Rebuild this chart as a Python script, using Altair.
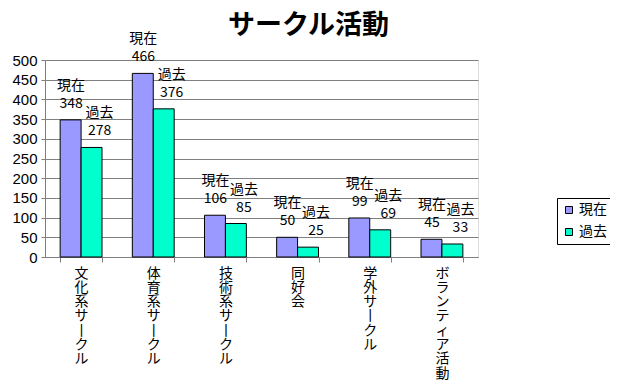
import altair as alt
import pandas as pd

categories = ["文化系サークル", "体育系サークル", "技術系サークル", "同好会", "学外サークル", "ボランティア活動"]
current = [348, 466, 106, 50, 99, 45]
past = [278, 376, 85, 25, 69, 33]
series = ["現在", "過去"]
colors = ["#9999FF", "#00FFCC"]

# vertical-writing display of category names (long vowel mark drawn upright)
vert = [c.replace("ー", "丨") for c in categories]

rows = []
for c, a, b in zip(vert, current, past):
    rows.append({"cat": c, "series": series[0], "value": a})
    rows.append({"cat": c, "series": series[1], "value": b})
df = pd.DataFrame(rows)

JP = "Noto Sans CJK JP"

x_enc = alt.X(
    "cat:N", sort=vert, title=None,
    scale=alt.Scale(paddingInner=0.42, paddingOuter=0.21),
    axis=alt.Axis(
        labelAngle=0, tickBand="extent", tickSize=5, tickColor="#808080",
        domainColor="#808080", labelFont=JP, labelFontSize=14,
        labelLineHeight=14.3, labelBaseline="top", labelPadding=4,
        labelColor="black",
        labelExpr="split(datum.label, '')",
    ),
)
xo_enc = alt.XOffset("series:N", scale=alt.Scale(domain=series))
y_enc = alt.Y(
    "value:Q", title=None,
    scale=alt.Scale(domain=[0, 500]),
    axis=alt.Axis(
        values=list(range(0, 501, 50)), gridColor="#808080", tickColor="#808080",
        domainColor="#808080", tickSize=4, labelFont="Liberation Sans",
        labelFontSize=15, labelColor="black", labelPadding=4,
    ),
)

base = alt.Chart(df).encode(x=x_enc, xOffset=xo_enc, y=y_enc)

bars = base.mark_bar(stroke="black", strokeWidth=1).encode(
    color=alt.Color(
        "series:N", scale=alt.Scale(domain=series, range=colors), title=None,
        legend=alt.Legend(
            orient="none", legendX=512, legendY=138, strokeColor="black",
            fillColor="white", padding=5, symbolType="square", symbolSize=49,
            symbolStrokeColor="black", symbolStrokeWidth=1, labelFont=JP,
            labelFontSize=14, rowPadding=8, labelColor="black", cornerRadius=0,
            symbolOffset=0, labelOffset=3,
        ),
    )
)

def labels(s, dx):
    name = base.transform_filter(alt.datum.series == s).mark_text(
        font=JP, fontSize=14, baseline="middle", dy=-34, dx=dx, color="black",
    ).encode(text="series:N")
    num = base.transform_filter(alt.datum.series == s).mark_text(
        font=JP, fontSize=14, baseline="middle", dy=-16, dx=dx, color="black",
    ).encode(text=alt.Text("value:Q", format="d"))
    return [name, num]

chart = alt.layer(bars, *labels("現在", 0.5), *labels("過去", 8)).properties(
    width=433, height=197,
    autosize=alt.AutoSizeParams(type="none"),
    padding={"left": 37, "top": 52, "right": 132, "bottom": 127},
    title=alt.TitleParams(
        "サークル活動", font=JP, fontSize=27, fontWeight="bold",
        anchor="middle", dx=47, dy=22, offset=14, color="black",
    ),
).configure_view(stroke=None).configure(background="white")

chart.save("out.html", embed_options={"renderer": "svg", "actions": False})
